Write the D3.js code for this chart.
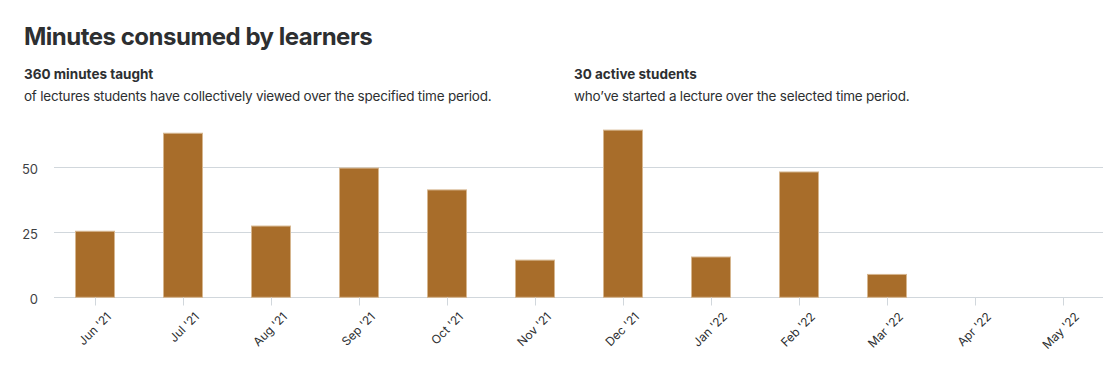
<!DOCTYPE html>
<html>
<head>
<meta charset="utf-8">
<script src="https://cdn.jsdelivr.net/npm/d3@7"></script>
<style>
  html, body { margin: 0; padding: 0; background: #fff; }
  svg { display: block; }
  text { font-family: Inter, "Noto Sans", sans-serif; }
</style>
</head>
<body>
<svg id="chart" width="1120" height="368"></svg>
<script>
const months = ["Jun '21", "Jul '21", "Aug '21", "Sep '21", "Oct '21", "Nov '21", "Dec '21", "Jan '22", "Feb '22", "Mar '22", "Apr '22", "May '22"];
const minutes = [25.4, 63.1, 27.4, 49.7, 41.3, 14.3, 64.3, 15.5, 48.2, 8.8, 0, 0];
const yTicks = [0, 25, 50];
const titleText = "Minutes consumed by learners";
const leftHead = "360 minutes taught";
const leftBody = "of lectures students have collectively viewed over the specified time period.";
const rightHead = "30 active students";
const rightBody = "who\u2019ve started a lecture over the selected time period.";

const svg = d3.select("#chart");
const textColor = "#2d2f31";

svg.append("text").attr("x", 24).attr("y", 45)
  .attr("font-size", 24).attr("font-weight", 700).attr("fill", textColor)
  .attr("letter-spacing", -0.5)
  .text(titleText);

function block(x, head, body) {
  svg.append("text").attr("x", x).attr("y", 79)
    .attr("font-size", 13.5).attr("font-weight", 700).attr("fill", textColor)
    .text(head);
  svg.append("text").attr("x", x).attr("y", 101)
    .attr("font-size", 13.5).attr("font-weight", 400).attr("fill", textColor)
    .attr("letter-spacing", -0.22)
    .text(body);
}
block(24, leftHead, leftBody);
block(574, rightHead, rightBody);

const x = d3.scaleBand().domain(months).range([51, 1107]).paddingInner(48 / 88).paddingOuter(24 / 88);
const y = d3.scaleLinear().domain([0, 70]).range([297.3, 115.3]);

const gridColor = "#d1d7dc";

// y axis labels
const yAxis = d3.axisLeft(y).tickValues(yTicks).tickSize(0).tickPadding(16);
const gy = svg.append("g").attr("transform", "translate(54,0)").call(yAxis);
gy.select(".domain").remove();
gy.selectAll(".tick text").attr("font-size", 13).attr("fill", "#3e4143")
  .attr("font-family", "Inter, sans-serif").attr("dy", "0.45em");

// gridlines
svg.append("g").selectAll("line").data(yTicks).join("line")
  .attr("x1", 54).attr("x2", 1103)
  .attr("y1", d => Math.round(y(d)) + 0.5).attr("y2", d => Math.round(y(d)) + 0.5)
  .attr("stroke", gridColor).attr("stroke-width", 1);

// bars
svg.append("g").selectAll("rect").data(minutes.map((v, i) => ({ m: months[i], v })).filter(d => d.v > 0))
  .join("rect")
  .attr("x", d => x(d.m) + 0.5)
  .attr("width", x.bandwidth() - 1)
  .attr("y", d => y(d.v))
  .attr("height", d => y(0) - y(d.v))
  .attr("fill", "#a86d2a")
  .attr("stroke", "#d6b68f").attr("stroke-width", 1);

// x axis
const xAxis = d3.axisBottom(x).tickSize(8).tickPadding(4);
const gx = svg.append("g").attr("transform", `translate(0,${Math.round(y(0)) + 0.5})`).call(xAxis);
gx.select(".domain").remove();
gx.selectAll(".tick line").attr("stroke", gridColor).attr("transform", "translate(0.5,0)");
gx.selectAll(".tick text")
  .attr("font-size", 12).attr("fill", textColor).attr("font-family", "Inter, sans-serif")
  .attr("text-anchor", "end")
  .attr("dy", "0.35em")
  .attr("transform", "translate(14,17) rotate(-45)")
  .attr("y", 0).attr("x", 0);
</script>
</body>
</html>
